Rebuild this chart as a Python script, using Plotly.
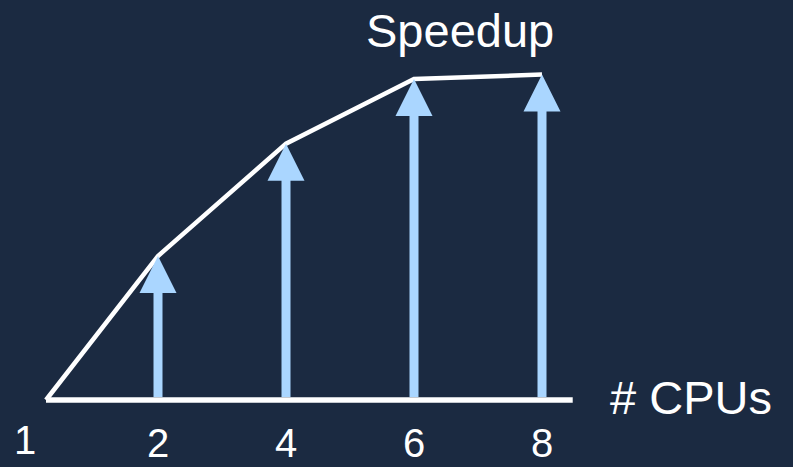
import plotly.graph_objects as go

# ---- data ----
cpus = [1, 2, 4, 6, 8]
speedup = [1.0, 2.0, 2.78, 3.23, 3.26]
tick_labels = ["1", "2", "4", "6", "8"]
x_title = "# CPUs"
y_title = "Speedup"

# ---- style / layout constants ----
W, H = 793, 467
BG = "#1b2a41"
ARROW = "#aad6ff"
FONT = "Liberation Sans, Arial, sans-serif"
X_RANGE = [-30 / 128, 763 / 128]
Y_RANGE = [1 - 67 / 144, 1 + 400 / 144]
START_SHIFT = 0.125      # the 1-CPU origin sits slightly right of its slot
AXIS_END_PAD = 0.24      # axis line runs a little past the last CPU
HEAD = 37                # arrow head size in px

px_per_y = H / (Y_RANGE[1] - Y_RANGE[0])

# categorical slot for each CPU count
slots = list(range(len(cpus)))
line_x = [s + (START_SHIFT if i == 0 else 0) for i, s in enumerate(slots)]

fig = go.Figure()

# speedup curve
fig.add_trace(go.Scatter(
    x=line_x, y=speedup, mode="lines",
    line=dict(color="white", width=4.5), hoverinfo="skip", showlegend=False))

# x axis line
fig.add_trace(go.Scatter(
    x=[line_x[0], slots[-1] + AXIS_END_PAD], y=[speedup[0], speedup[0]],
    mode="lines", line=dict(color="white", width=5.5),
    hoverinfo="skip", showlegend=False))

# arrow shafts
sx, sy = [], []
for s, v in zip(slots[1:], speedup[1:]):
    sx += [s, s, None]
    sy += [speedup[0] + 3 / px_per_y, v - (HEAD - 2) / px_per_y, None]
fig.add_trace(go.Scatter(
    x=sx, y=sy, mode="lines", line=dict(color=ARROW, width=9),
    hoverinfo="skip", showlegend=False))

# arrow heads
fig.add_trace(go.Scatter(
    x=slots[1:], y=speedup[1:], mode="markers",
    marker=dict(symbol="arrow-up", size=HEAD, color=ARROW,
                line=dict(width=0)),
    hoverinfo="skip", showlegend=False))

# tick labels
for i, (s, lab) in enumerate(zip(slots, tick_labels)):
    fig.add_annotation(
        x=s, y=speedup[0], xref="x", yref="y", text=lab, showarrow=False,
        xanchor="center", yanchor="middle",
        xshift=(-5 if i == 0 else 0), yshift=(-40 if i == 0 else -43),
        font=dict(family=FONT, size=40, color="white"))

# axis titles
fig.add_annotation(
    x=691 / W, y=1 - 397 / H, xref="paper", yref="paper", text=x_title,
    showarrow=False, xanchor="center", yanchor="middle",
    font=dict(family=FONT, size=47, color="white"))
fig.add_annotation(
    x=460 / W, y=1 - 30 / H, xref="paper", yref="paper", text=y_title,
    showarrow=False, xanchor="center", yanchor="middle",
    font=dict(family=FONT, size=47, color="white"))

fig.update_layout(
    width=W, height=H, margin=dict(l=0, r=0, t=0, b=0),
    paper_bgcolor=BG, plot_bgcolor=BG,
    xaxis=dict(range=X_RANGE, visible=False, fixedrange=True),
    yaxis=dict(range=Y_RANGE, visible=False, fixedrange=True),
    showlegend=False,
)

fig.write_html("out.html")
